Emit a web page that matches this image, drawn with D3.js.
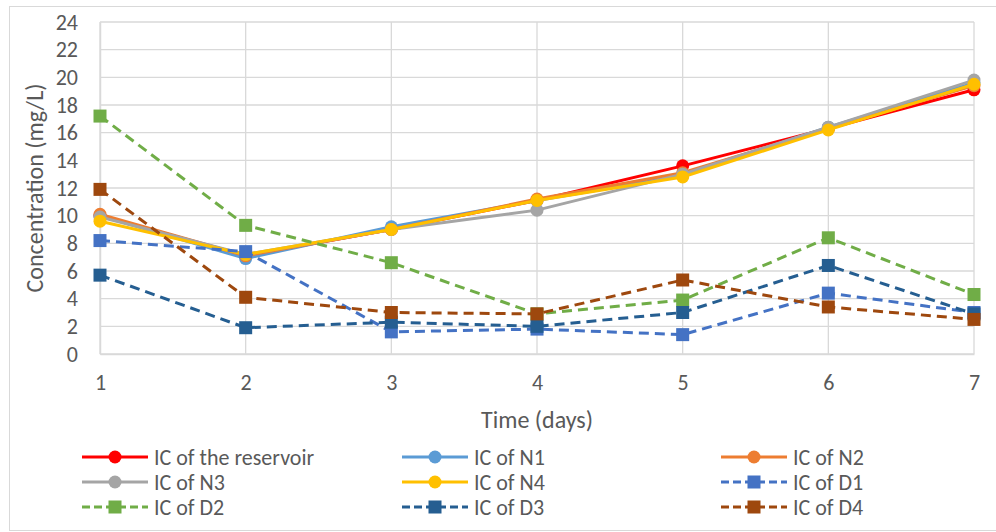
<!DOCTYPE html>
<html>
<head>
<meta charset="utf-8">
<script src="https://d3js.org/d3.v7.min.js"></script>
<style>
  body { margin: 0; background: #fff; }
  text { font-family: Carlito, "Open Sans", "Liberation Sans", sans-serif; fill: #595959; }
</style>
</head>
<body>
<div id="chart"></div>
<script>
let days = [1, 2, 3, 4, 5, 6, 7];
let yTicks = [0, 2, 4, 6, 8, 10, 12, 14, 16, 18, 20, 22, 24];

let names = ["IC of the reservoir", "IC of N1", "IC of N2", "IC of N3", "IC of N4",
             "IC of D1", "IC of D2", "IC of D3", "IC of D4"];
let colors = ["#ff0000", "#5b9bd5", "#ed7d31", "#a5a5a5", "#ffc000",
              "#4472c4", "#70ad47", "#255e91", "#9e480e"];

let reservoir = [10.0, 7.1, 9.0, 11.1, 13.6, 16.3, 19.1];
let n1 = [10.0, 6.9, 9.2, 11.1, 12.9, 16.4, 19.6];
let n2 = [10.1, 7.1, 9.0, 11.2, 13.1, 16.3, 19.4];
let n3 = [9.9, 7.2, 9.0, 10.4, 13.0, 16.4, 19.8];
let n4 = [9.6, 7.2, 9.0, 11.1, 12.8, 16.2, 19.5];
let d1 = [8.2, 7.4, 1.6, 1.8, 1.4, 4.4, 3.0];
let d2 = [17.2, 9.3, 6.6, 2.9, 3.9, 8.4, 4.3];
let d3v = [5.7, 1.9, 2.3, 2.0, 3.0, 6.4, 2.9];
let d4 = [11.9, 4.1, 3.0, 2.9, 5.35, 3.4, 2.5];

let seriesValues = [reservoir, n1, n2, n3, n4, d1, d2, d3v, d4];
let series = names.map(function(n, i) {
  return { name: n, color: colors[i], values: seriesValues[i], dashed: i >= 5 };
});

let width = 996, height = 532;
let margin = { left: 100, right: 22, top: 22, bottom: 178 };

let svg = d3.select("#chart").append("svg")
    .attr("width", width)
    .attr("height", height);

svg.append("rect")
    .attr("x", 9.5).attr("y", 6.5)
    .attr("width", 1000).attr("height", 524)
    .attr("fill", "#fff")
    .attr("stroke", "#d9d9d9");

let x = d3.scaleLinear().domain([1, 7]).range([margin.left, width - margin.right]);
let y = d3.scaleLinear().domain([0, 24]).range([height - margin.bottom, margin.top]);

// gridlines
svg.append("g").selectAll("line").data(yTicks).enter().append("line")
    .attr("x1", x(1)).attr("x2", x(7))
    .attr("y1", function(d) { return y(d); })
    .attr("y2", function(d) { return y(d); })
    .attr("stroke", "#d9d9d9").attr("stroke-width", 1.3);

svg.append("g").selectAll("line").data(days).enter().append("line")
    .attr("x1", function(d) { return x(d); })
    .attr("x2", function(d) { return x(d); })
    .attr("y1", y(0)).attr("y2", y(24))
    .attr("stroke", "#d9d9d9").attr("stroke-width", 1.3);

// axes
let yAxis = svg.append("g")
    .attr("transform", `translate(${x(1)},0)`)
    .call(d3.axisLeft(y).tickValues(yTicks).tickSize(0).tickPadding(22));
let xAxis = svg.append("g")
    .attr("transform", `translate(0,${y(0)})`)
    .call(d3.axisBottom(x).tickValues(days).tickFormat(d3.format("d")).tickSize(0).tickPadding(20));
[yAxis, xAxis].forEach(function(a) {
  a.select(".domain").attr("stroke", "#d9d9d9").attr("stroke-width", 1.5);
  a.selectAll("text").style("font-size", "22px").attr("fill", "#595959")
    .style("font-family", "Carlito, 'Open Sans', 'Liberation Sans', sans-serif");
});

svg.append("text")
    .attr("x", (x(1) + x(7)) / 2).attr("y", 428)
    .style("text-anchor", "middle")
    .style("font-size", "24px")
    .text("Time (days)");

svg.append("text")
    .attr("transform", `translate(43, ${(y(0) + y(24)) / 2}) rotate(-90)`)
    .style("text-anchor", "middle")
    .style("font-size", "24px")
    .text("Concentration (mg/L)");

let line = d3.line()
    .x(function(d, i) { return x(days[i]); })
    .y(function(d) { return y(d); });

function drawMarker(g, s, cx, cy) {
  if (s.dashed) {
    g.append("rect")
      .attr("x", cx - 6.5).attr("y", cy - 6.5)
      .attr("width", 13).attr("height", 13)
      .attr("fill", s.color);
  } else {
    g.append("circle")
      .attr("cx", cx).attr("cy", cy).attr("r", 6.5)
      .attr("fill", s.color);
  }
}

series.forEach(function(s) {
  let g = svg.append("g");
  g.append("path")
    .datum(s.values)
    .attr("d", line)
    .attr("fill", "none")
    .attr("stroke", s.color)
    .attr("stroke-width", 3)
    .attr("stroke-dasharray", s.dashed ? "10,6" : null);
  s.values.forEach(function(v, i) {
    drawMarker(g, s, x(days[i]), y(v));
  });
});

// legend
let colX = [82, 402, 721];
let rowY = [457, 482, 507];
series.forEach(function(s, i) {
  let lx = colX[i % 3], ly = rowY[Math.floor(i / 3)];
  let g = svg.append("g");
  g.append("line")
    .attr("x1", lx).attr("x2", lx + 66)
    .attr("y1", ly).attr("y2", ly)
    .attr("stroke", s.color)
    .attr("stroke-width", 3)
    .attr("stroke-dasharray", s.dashed ? "8,4" : null);
  drawMarker(g, s, lx + 33, ly);
  g.append("text")
    .attr("x", lx + 72).attr("y", ly)
    .attr("dy", "0.35em")
    .style("font-size", "22px")
    .text(s.name);
});
</script>
</body>
</html>
